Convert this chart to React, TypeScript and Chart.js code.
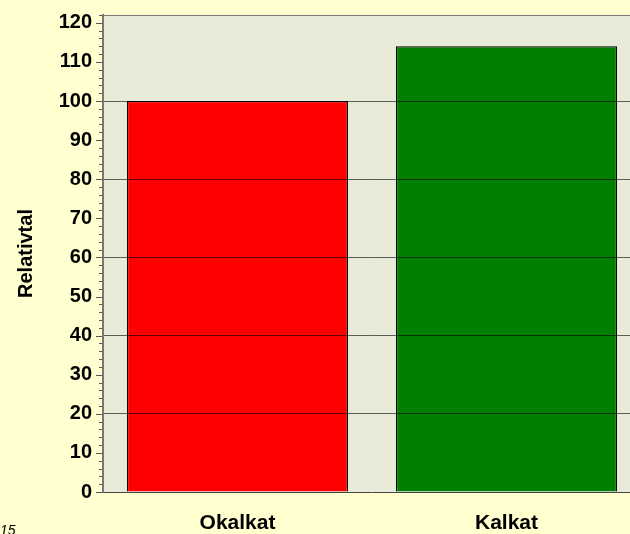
import React, { useEffect, useRef } from "react";
import { Chart, registerables } from "chart.js";

Chart.register(...registerables);

const categories = ["Okalkat", "Kalkat"];
const values = [100, 114];
const barColors = ["#FF0000", "#008000"];
const yTitle = "Relativtal";
const yMin = 0;
const yMax = 122;
const footnote = "15";

const FONT = "'Liberation Sans', Arial, Helvetica, sans-serif";

const bgPlugin = {
  id: "bgPlugin",
  beforeDraw(chart: any) {
    const { ctx, width, height, chartArea } = chart;
    ctx.save();
    ctx.fillStyle = "#FFFFD0";
    ctx.fillRect(0, 0, width, height);
    ctx.fillStyle = "#E8EBD8";
    ctx.fillRect(chartArea.left, chartArea.top, chartArea.right - chartArea.left, chartArea.bottom - chartArea.top);
    ctx.strokeStyle = "#777";
    ctx.lineWidth = 1;
    ctx.beginPath();
    ctx.moveTo(chartArea.left, Math.round(chartArea.top) + 0.5);
    ctx.lineTo(chartArea.right, Math.round(chartArea.top) + 0.5);
    ctx.stroke();
    ctx.restore();
  },
  afterDraw(chart: any) {
    const { ctx, chartArea } = chart;
    const y = chart.scales.y;
    ctx.save();
    ctx.strokeStyle = "#555";
    ctx.lineWidth = 1;
    for (let v = yMin; v <= yMax; v += 2) {
      const py = Math.round(y.getPixelForValue(v)) + 0.5;
      const len = v % 10 === 0 ? 6 : 3;
      ctx.beginPath();
      ctx.moveTo(chartArea.left - len - 1, py);
      ctx.lineTo(chartArea.left - 1, py);
      ctx.stroke();
    }
    ctx.restore();
  },
};

export default function App() {
  const ref = useRef<HTMLCanvasElement>(null);
  useEffect(() => {
    if (!ref.current) return;
    const chart = new Chart(ref.current, {
      type: "bar",
      data: {
        labels: categories,
        datasets: [
          {
            data: values,
            backgroundColor: barColors,
            borderColor: "#000",
            borderWidth: 1.3,
            categoryPercentage: 1,
            barPercentage: 0.822,
          },
        ],
      },
      options: {
        animation: false,
        responsive: false,
        layout: { padding: { top: 15, right: 19, left: 0, bottom: 0 } },
        plugins: { legend: { display: false }, tooltip: { enabled: false } },
        scales: {
          x: {
            grid: { display: false, drawTicks: false },
            border: { display: true, color: "#444", width: 1 },
            ticks: { color: "#000", font: { family: FONT, size: 21, weight: "bold" }, padding: 19 },
            afterFit: (s: any) => { s.height = 42; s.paddingLeft = 0; s.paddingRight = 0; },
          },
          y: {
            min: yMin,
            max: yMax,
            grid: {
              z: 1,
              drawTicks: false,
              color: (c: any) => {
                const v = c.tick ? c.tick.value : 0;
                return v > 0 && v <= 100 && v % 20 === 0 ? "rgba(0,0,0,0.6)" : "rgba(0,0,0,0)";
              },
              lineWidth: 1,
            },
            border: { display: true, color: "#777", width: 2, z: 1 },
            ticks: {
              stepSize: 2,
              autoSkip: false,
              padding: 11,
              color: "#000",
              font: { family: FONT, size: 20, weight: "bold" },
              callback: (v: any) => (Number(v) % 10 === 0 ? String(v) : ""),
            },
            title: {
              display: true,
              text: yTitle,
              color: "#000",
              font: { family: FONT, size: 20, weight: "bold" },
              padding: { top: 14, bottom: 0 },
            },
            afterFit: (s: any) => { s.width = 103; s.paddingTop = 0; s.paddingBottom = 0; },
          },
        },
      },
      plugins: [bgPlugin],
    });
    return () => chart.destroy();
  }, []);
  return (
    <div style={{ position: "fixed", left: 0, top: 0, width: 630, height: 534, overflow: "hidden", background: "#FFFFD0" }}>
      <canvas ref={ref} width={660} height={534} style={{ position: "absolute", left: 0, top: 0, width: 660, height: 534 }} />
      <div style={{ position: "absolute", left: 0, top: 522, fontFamily: FONT, fontStyle: "italic", fontSize: 14, color: "#000", lineHeight: "16px" }}>{footnote}</div>
    </div>
  );
}
